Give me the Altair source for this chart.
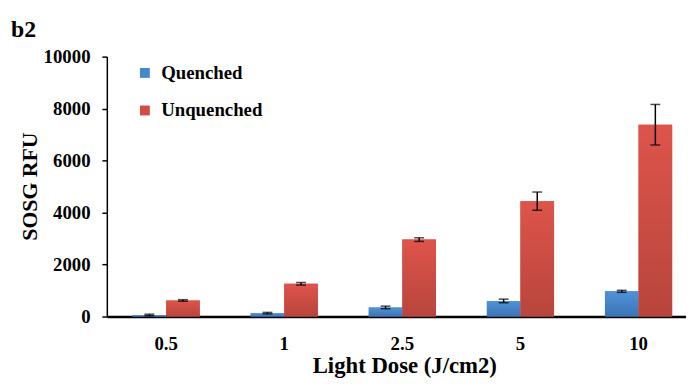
import altair as alt
import pandas as pd

doses = ["0.5", "1", "2.5", "5", "10"]
series = ["Quenched", "Unquenched"]
quenched = [60, 130, 350, 600, 970]
quenched_err = [30, 30, 50, 70, 40]
unquenched = [620, 1260, 2960, 4440, 7380]
unquenched_err = [30, 50, 70, 350, 780]
y_ticks = [0, 2000, 4000, 6000, 8000, 10000]

rows = []
for d, v, e in zip(doses, quenched, quenched_err):
    rows.append(dict(dose=d, series="Quenched", value=v, lo=v - e, hi=v + e))
for d, v, e in zip(doses, unquenched, unquenched_err):
    rows.append(dict(dose=d, series="Unquenched", value=v, lo=v - e, hi=v + e))
df = pd.DataFrame(rows)

FONT = "Liberation Serif"
BLUE = "#4787cb"
RED = "#d24c43"

x_enc = alt.X(
    "dose:N", sort=doses,
    scale=alt.Scale(paddingInner=0.431, paddingOuter=0.1675, align=0.65),
    axis=alt.Axis(title="Light Dose (J/cm2)", labelAngle=0, ticks=False,
                  labelPadding=18, labelFont=FONT, labelFontSize=19,
                  labelFontWeight="bold", labelColor="black",
                  titleFont=FONT, titleFontSize=23, titleFontWeight="bold",
                  titleColor="black", titleX=301, titleY=57,
                  titleBaseline="alphabetic",
                  domainColor="black", domainWidth=2.5),
)
xo_enc = alt.XOffset("series:N", sort=series,
                     scale=alt.Scale(paddingInner=0, paddingOuter=0))
y_axis = alt.Axis(values=y_ticks, title="SOSG RFU", grid=False, format="d",
                  labelFont=FONT, labelFontSize=19, labelFontWeight="bold",
                  labelColor="black", labelPadding=12, tickSize=5,
                  tickColor="black", tickWidth=1.5,
                  domainColor="black", domainWidth=1.5,
                  titleFont=FONT, titleFontSize=22, titleFontWeight="bold",
                  titleColor="black", titleAngle=-90, titleX=-78, titleY=131,
                  titleBaseline="middle", titleAlign="center")
y_scale = alt.Scale(domain=[0, 10000])

base = alt.Chart(df)

bars = base.mark_bar().encode(
    x=x_enc, xOffset=xo_enc,
    y=alt.Y("value:Q", scale=y_scale, axis=y_axis),
    color=alt.Color("series:N", sort=series,
                    scale=alt.Scale(domain=series, range=[BLUE, RED]),
                    legend=alt.Legend(title=None, orient="none", legendX=29,
                                      legendY=7, symbolType="square",
                                      symbolSize=100, symbolStrokeWidth=0,
                                      labelFont=FONT, labelFontSize=19,
                                      labelFontWeight="bold", labelColor="black",
                                      rowPadding=18, padding=0, labelOffset=7)),
)

def grad(top, bottom):
    return alt.Gradient(gradient="linear",
                        stops=[alt.GradientStop(color=top, offset=0),
                               alt.GradientStop(color=bottom, offset=1)],
                        x1=0, x2=0, y1=0, y2=1)

bars_q = base.transform_filter(alt.datum.series == "Quenched").mark_bar(
    color=grad("#5093d8", "#3b74b4")).encode(
    x=x_enc, xOffset=xo_enc, y=alt.Y("value:Q", scale=y_scale, axis=y_axis))
bars_u = base.transform_filter(alt.datum.series == "Unquenched").mark_bar(
    color=grad("#de544b", "#b8453c")).encode(
    x=x_enc, xOffset=xo_enc, y=alt.Y("value:Q", scale=y_scale, axis=y_axis))

rule = base.mark_rule(color="black", strokeWidth=1.5).encode(
    x=x_enc, xOffset=xo_enc,
    y=alt.Y("lo:Q", scale=y_scale, axis=y_axis), y2="hi:Q")
cap_lo = base.mark_tick(color="black", size=10, thickness=1.5).encode(
    x=x_enc, xOffset=xo_enc, y=alt.Y("lo:Q", scale=y_scale, axis=y_axis))
cap_hi = base.mark_tick(color="black", size=10, thickness=1.5).encode(
    x=x_enc, xOffset=xo_enc, y=alt.Y("hi:Q", scale=y_scale, axis=y_axis))

label = alt.Chart(pd.DataFrame({"t": ["b2"]})).mark_text(
    font=FONT, fontSize=24, fontWeight="bold", align="left",
    baseline="alphabetic", color="black").encode(
    text="t:N", x=alt.value(-97), y=alt.value(-20))

chart = alt.layer(bars, bars_q, bars_u, rule, cap_lo, cap_hi, label).properties(
    width=586, height=263,
    padding={"left": 100, "top": 47, "right": 0, "bottom": 61},
    autosize=alt.AutoSizeParams(type="none"),
    background="white",
).configure_view(stroke=None)

chart.save("out.html", embed_options={"renderer": "svg", "actions": False})
